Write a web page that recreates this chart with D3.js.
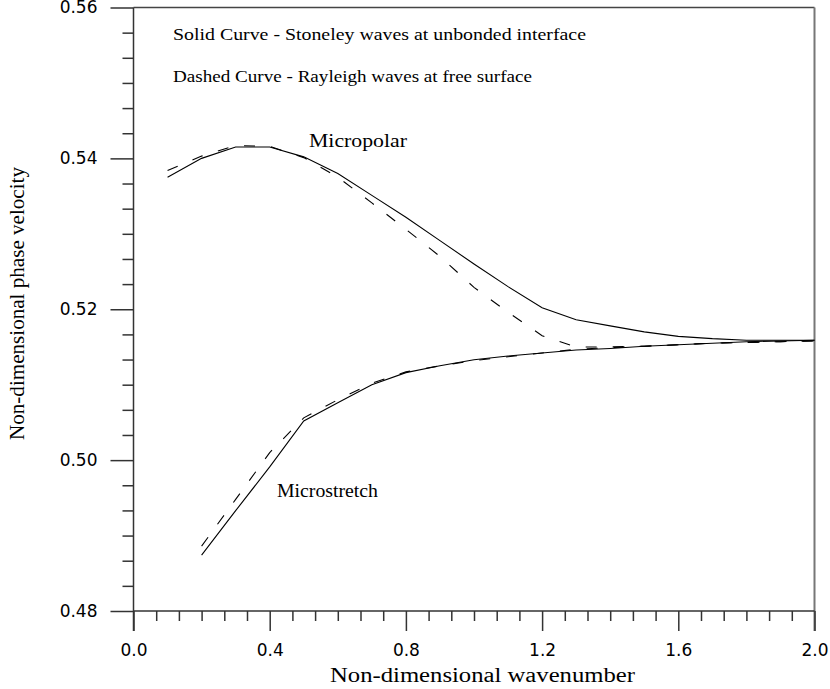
<!DOCTYPE html>
<html>
<head>
<meta charset="utf-8">
<script src="https://cdn.jsdelivr.net/npm/d3@7"></script>
<style>
  html, body { margin: 0; padding: 0; background: #fff; }
  svg { display: block; }
</style>
</head>
<body>
<svg id="chart" width="830" height="689"></svg>
<script>
// ---- Data ----
const xMicropolar = [0.1,0.2,0.3,0.4,0.5,0.6,0.7,0.8,0.9,1.0,1.1,1.2,1.3,1.4,1.5,1.6,1.7,1.8,1.9,2.0];
const solidMicropolar  = [0.5375,0.5400,0.5415,0.5415,0.5402,0.5380,0.5351,0.5322,0.5291,0.5260,0.5230,0.5202,0.5186,0.5178,0.5170,0.5164,0.5161,0.5159,0.5159,0.5159];
const dashedMicropolar = [0.5384,0.5403,0.5417,0.5416,0.5401,0.5375,0.5341,0.5306,0.5270,0.5229,0.5196,0.5165,0.5150,0.5150,0.5151,0.5153,0.5155,0.5156,0.5157,0.5158];

const xMicrostretch = [0.2,0.3,0.4,0.5,0.6,0.7,0.8,0.9,1.0,1.1,1.2,1.3,1.4,1.5,1.6,1.7,1.8,1.9,2.0];
const solidMicrostretch  = [0.4874,0.4933,0.4991,0.5052,0.5076,0.5100,0.5116,0.5125,0.5133,0.5138,0.5142,0.5146,0.5148,0.5151,0.5153,0.5155,0.5157,0.5158,0.5159];
const dashedMicrostretch = [0.4886,0.4948,0.5010,0.5056,0.5080,0.5102,0.5117,0.5125,0.5132,0.5137,0.5142,0.5147,0.5149,0.5151,0.5153,0.5155,0.5156,0.5157,0.5158];

const xMajorTicks = [0.0,0.4,0.8,1.2,1.6,2.0];
const yMajorTicks = [0.48,0.50,0.52,0.54,0.56];

const xTitle = "Non-dimensional wavenumber";
const yTitle = "Non-dimensional phase velocity";
const note1 = "Solid Curve - Stoneley waves at unbonded interface";
const note2 = "Dashed Curve - Rayleigh waves at free surface";

// ---- Scales ----
const svg = d3.select("#chart");
const x = d3.scaleLinear().domain([0, 2]).range([133.5, 814.5]);
const y = d3.scaleLinear().domain([0.48, 0.56]).range([611, 7.5]);

const xMinor = d3.range(0, 31).map(i => i * 2 / 30).filter((v, i) => i % 6 !== 0);
const yMinor = d3.range(0, 25).map(i => 0.48 + i * 0.08 / 24).filter((v, i) => i % 6 !== 0);

const axisColor = "#333";

// frame: top and right
svg.append("line").attr("x1", x(0)).attr("x2", x(2)).attr("y1", y(0.56)).attr("y2", y(0.56))
  .attr("stroke", "#444").attr("stroke-width", 1.5);
svg.append("line").attr("x1", x(2)).attr("x2", x(2)).attr("y1", y(0.56)).attr("y2", 631)
  .attr("stroke", "#777").attr("stroke-width", 2);

// x axis
const gx = svg.append("g").attr("transform", `translate(0,${y(0.48)})`);
gx.call(d3.axisBottom(x).tickValues(xMajorTicks).tickSize(20).tickPadding(13)
  .tickFormat(d3.format(".1f")));
const gxm = svg.append("g").attr("transform", `translate(0,${y(0.48)})`);
gxm.call(d3.axisBottom(x).tickValues(xMinor).tickSize(10).tickFormat(""));
gxm.select(".domain").remove();

// y axis
const gy = svg.append("g").attr("transform", `translate(${x(0)},0)`);
gy.call(d3.axisLeft(y).tickValues(yMajorTicks).tickSize(23).tickPadding(13)
  .tickFormat(d3.format(".2f")));
const gym = svg.append("g").attr("transform", `translate(${x(0)},0)`);
gym.call(d3.axisLeft(y).tickValues(yMinor).tickSize(11).tickFormat(""));
gym.select(".domain").remove();

svg.selectAll(".domain").attr("stroke", axisColor).attr("stroke-width", 1.5);
svg.selectAll(".tick line").attr("stroke", axisColor).attr("stroke-width", 1.5);
svg.selectAll(".tick text").attr("fill", "#000")
  .style("font-family", "'DejaVu Sans', Verdana, sans-serif").style("font-size", "17px");
// extend domain of x axis to the left (0.48 major tick)
gx.select(".domain").attr("d", `M${x(0)},0H${x(2)}`);
gy.select(".domain").attr("d", `M0,${y(0.56) - y(0)}V${631 - 0}`);
gy.select(".domain").attr("d", `M0,${y(0.56)}V631`);

// ---- Curves ----
const line = (xs) => d3.line().x((d, i) => x(xs[i])).y(d => y(d));

function drawCurve(xs, vals, dashed) {
  svg.append("path").datum(vals)
    .attr("d", line(xs))
    .attr("fill", "none")
    .attr("stroke", "#000")
    .attr("stroke-width", 1.1)
    .attr("stroke-dasharray", dashed ? "11,16" : null);
}
drawCurve(xMicropolar, solidMicropolar, false);
drawCurve(xMicropolar, dashedMicropolar, true);
drawCurve(xMicrostretch, solidMicrostretch, false);
drawCurve(xMicrostretch, dashedMicrostretch, true);

// ---- Text ----
const serif = "'Liberation Serif', 'Times New Roman', serif";
function txt(s, px, py, size, len) {
  const t = svg.append("text").attr("x", px).attr("y", py).text(s)
    .style("font-family", serif).style("font-size", size + "px").attr("fill", "#000");
  if (len) t.attr("textLength", len).attr("lengthAdjust", "spacingAndGlyphs");
  return t;
}
txt(note1, 173, 40, 17, 413);
txt(note2, 173, 82, 17, 359);
txt("Micropolar", 309, 147, 18, 98);
txt("Microstretch", 277, 497, 18, 101);
txt(xTitle, 330, 682, 20, 305);
svg.append("text")
  .attr("transform", "translate(24,440) rotate(-90)")
  .attr("textLength", 273).attr("lengthAdjust", "spacingAndGlyphs")
  .style("font-family", serif).style("font-size", "20px").attr("fill", "#000")
  .text(yTitle);
</script>
</body>
</html>
